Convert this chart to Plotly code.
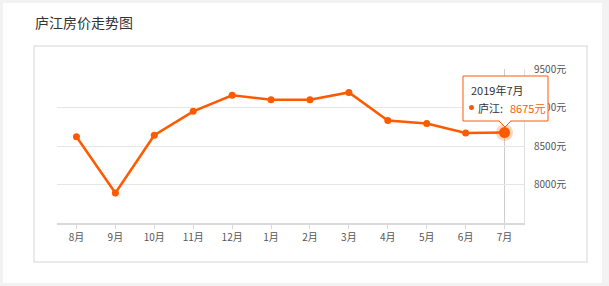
import plotly.graph_objects as go

months = ["8月", "9月", "10月", "11月", "12月", "1月", "2月", "3月", "4月", "5月", "6月", "7月"]
prices = [8620, 7890, 8640, 8950, 9158, 9100, 9102, 9196, 8830, 8791, 8668, 8675]
ytick_vals = [8000, 8500, 9000, 9500]
ytick_text = ["8000元", "8500元", "9000元", "9500元"]
title_text = "庐江房价走势图"
tip_title = "2019年7月"
tip_name = "庐江:"
tip_value = "8675元"

W, H = 609, 286
L, R, T, B = 57, 524, 69, 223
ORANGE = "#ff5a00"
FONT = "Noto Sans CJK SC"


def px(x):
    return (x - L) / (R - L)


def py(y):
    return (B - y) / (B - T)


fig = go.Figure()
fig.add_trace(go.Scatter(
    x=months, y=prices, mode="lines+markers",
    line=dict(color=ORANGE, width=2.5),
    marker=dict(color=ORANGE, size=7),
    hoverinfo="skip", showlegend=False, cliponaxis=False,
))
fig.add_trace(go.Scatter(
    x=[months[-1]], y=[prices[-1]], mode="markers",
    marker=dict(color="rgba(255,90,0,0.25)", size=17),
    hoverinfo="skip", showlegend=False, cliponaxis=False,
))
fig.add_trace(go.Scatter(
    x=[months[-1]], y=[prices[-1]], mode="markers",
    marker=dict(color=ORANGE, size=11),
    hoverinfo="skip", showlegend=False, cliponaxis=False,
))

shapes = [
    # white page panel
    dict(type="rect", xref="paper", yref="paper", layer="below",
         x0=px(3), x1=px(602), y0=py(283), y1=py(3),
         fillcolor="white", line=dict(width=0)),
    # inner box
    dict(type="rect", xref="paper", yref="paper", layer="below",
         x0=px(34), x1=px(587), y0=py(262), y1=py(46),
         fillcolor="white", line=dict(color="#e3e3e3", width=1.5)),
    # axis pointer line
    dict(type="line", xref="x", yref="paper", layer="below",
         x0=months[-1], x1=months[-1], y0=0, y1=1,
         line=dict(color="#cccccc", width=1)),
    # tooltip box
    dict(type="rect", xref="paper", yref="paper", layer="above",
         x0=px(463), x1=px(548), y0=py(121), y1=py(76),
         fillcolor="white", line=dict(color=ORANGE, width=1)),
    dict(type="line", xref="paper", yref="paper", layer="above",
         x0=px(499.5), x1=px(510.5), y0=py(121), y1=py(121),
         line=dict(color="white", width=2)),
    dict(type="path", xref="paper", yref="paper", layer="above",
         path=f"M {px(499)} {py(121)} L {px(505)} {py(127)} L {px(511)} {py(121)}",
         fillcolor="white", line=dict(color=ORANGE, width=1)),
    dict(type="circle", xref="paper", yref="paper", layer="above",
         x0=px(469), x1=px(474), y0=py(110), y1=py(105),
         fillcolor=ORANGE, line=dict(width=0)),
]

annotations = [
    dict(text=title_text, xref="paper", yref="paper", x=px(33), y=py(22),
         xanchor="left", yanchor="middle", showarrow=False,
         font=dict(family=FONT, size=14, color="#333333")),
    dict(text=tip_title, xref="paper", yref="paper", x=px(469), y=py(90),
         xanchor="left", yanchor="middle", showarrow=False,
         font=dict(family=FONT, size=11, color="#333333")),
    dict(text=tip_name, xref="paper", yref="paper", x=px(476), y=py(108),
         xanchor="left", yanchor="middle", showarrow=False,
         font=dict(family=FONT, size=11, color="#333333")),
    dict(text=tip_value, xref="paper", yref="paper", x=px(508), y=py(108),
         xanchor="left", yanchor="middle", showarrow=False,
         font=dict(family=FONT, size=11, color=ORANGE)),
]

fig.update_layout(
    width=W, height=H,
    margin=dict(l=L, r=W - R, t=T, b=H - B, pad=0),
    paper_bgcolor="#f2f2f2", plot_bgcolor="rgba(0,0,0,0)",
    shapes=shapes, annotations=annotations,
    font=dict(family=FONT, size=10, color="#555555"),
    xaxis=dict(
        type="category", range=[-0.5, len(months) - 0.5],
        showgrid=False, showline=True, linecolor="#d9d9d9", linewidth=2,
        ticks="outside", ticklen=4, tickcolor="#d9d9d9",
        tickfont=dict(family=FONT, size=10, color="#555555"),
        ticklabelstandoff=0, zeroline=False, fixedrange=True,
    ),
    yaxis=dict(
        side="right", range=[7500, 9500],
        tickvals=ytick_vals, ticktext=ytick_text,
        showgrid=True, gridcolor="#e6e6e6", gridwidth=1,
        showline=True, linecolor="#e0e0e0", linewidth=1,
        ticks="", ticklabelstandoff=7, zeroline=False,
        tickfont=dict(family=FONT, size=10, color="#555555"),
        fixedrange=True,
    ),
)

fig.write_html("out.html")
